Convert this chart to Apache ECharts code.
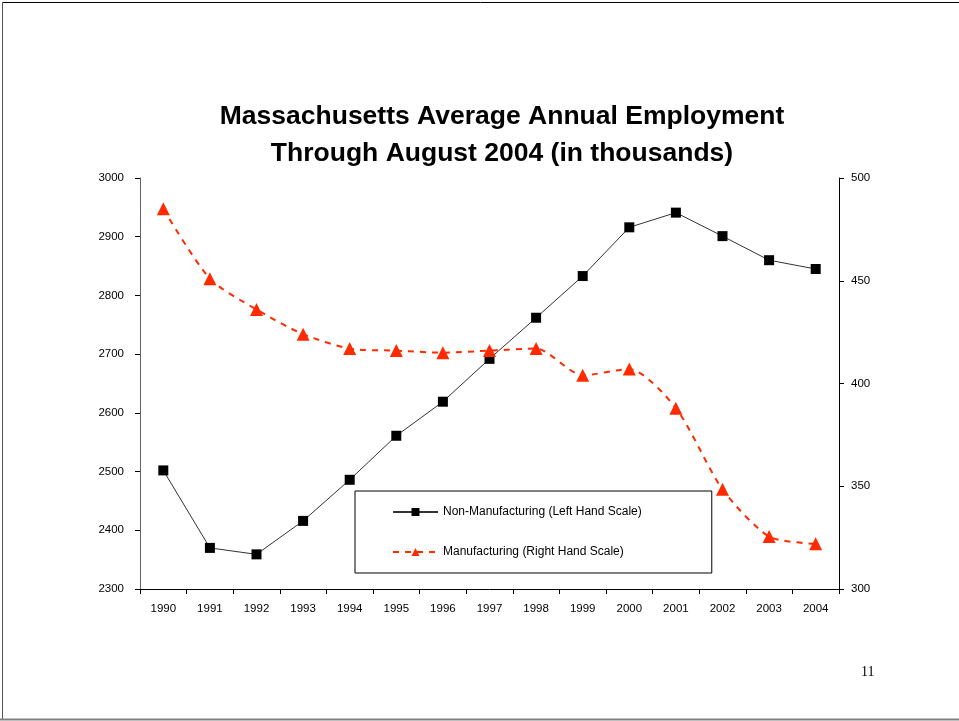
<!DOCTYPE html>
<html>
<head>
<meta charset="utf-8">
<script src="https://cdn.jsdelivr.net/npm/echarts@6/dist/echarts.min.js"></script>
<style>html,body{margin:0;padding:0;background:#fff;}#c{width:959px;height:721px;}</style>
</head>
<body>
<div id="c"></div>
<script>
const years = ['1990','1991','1992','1993','1994','1995','1996','1997','1998','1999','2000','2001','2002','2003','2004'];
const nonManufacturing = [2502, 2370, 2359, 2416, 2486, 2561, 2619, 2692, 2762, 2833, 2916, 2941, 2901, 2860, 2845];
const manufacturing = [485, 451, 436, 424, 417, 416, 415, 416, 417, 404, 407, 388, 348.5, 325.5, 322];
const leftTicks = [2300, 3000, 100];
const rightTicks = [300, 500, 50];

const chart = echarts.init(document.getElementById('c'), null, {renderer: 'canvas'});
const font = 'Liberation Sans, Arial, sans-serif';
const plain = v => String(v);
chart.setOption({
  backgroundColor: '#fff',
  animation: false,
  title: {
    text: 'Massachusetts Average Annual Employment\nThrough August 2004 (in thousands)',
    left: 497, top: 93, textAlign: 'center',
    textStyle: {fontFamily: font, fontSize: 26.5, fontWeight: 'bold', color: '#000', lineHeight: 37}
  },
  grid: {left: 140, right: 120, top: 178, bottom: 132, containLabel: false},
  legend: {
    orient: 'vertical',
    left: 355, top: 491,
    padding: [15, 70, 15, 37],
    itemGap: 28,
    itemWidth: 45, itemHeight: 10,
    borderColor: '#000', borderWidth: 1,
    textStyle: {fontFamily: font, fontSize: 12, color: '#000'},
    data: ['Non-Manufacturing (Left Hand Scale)', 'Manufacturing (Right Hand Scale)']
  },
  xAxis: {
    type: 'category', data: years, boundaryGap: true,
    axisLine: {lineStyle: {color: '#000', width: 1}},
    axisTick: {show: true, alignWithLabel: false, length: 5, lineStyle: {color: '#000'}},
    axisLabel: {fontFamily: font, fontSize: 11.5, color: '#000', margin: 14}
  },
  yAxis: [{
    type: 'value', min: leftTicks[0], max: leftTicks[1], interval: leftTicks[2], position: 'left',
    axisLine: {show: true, lineStyle: {color: '#666', width: 1}},
    axisTick: {show: true, length: 5, lineStyle: {color: '#000'}},
    splitLine: {show: false},
    axisLabel: {fontFamily: font, fontSize: 11.5, color: '#000', margin: 16, formatter: plain}
  }, {
    type: 'value', min: rightTicks[0], max: rightTicks[1], interval: rightTicks[2], position: 'right',
    axisLine: {show: true, lineStyle: {color: '#000', width: 1}},
    axisTick: {show: true, length: 5, lineStyle: {color: '#000'}},
    splitLine: {show: false},
    axisLabel: {fontFamily: font, fontSize: 11.5, color: '#000', margin: 12, formatter: plain}
  }],
  series: [{
    name: 'Non-Manufacturing (Left Hand Scale)',
    type: 'line', yAxisIndex: 0, data: nonManufacturing,
    symbol: 'rect', symbolSize: 10,
    itemStyle: {color: '#000'},
    lineStyle: {color: '#333', width: 1}
  }, {
    name: 'Manufacturing (Right Hand Scale)',
    type: 'line', yAxisIndex: 1, data: manufacturing,
    smooth: 0.25,
    symbol: 'triangle', symbolSize: 13,
    itemStyle: {color: '#FF2A00'},
    lineStyle: {color: '#FF2A00', width: 2, type: [6, 6]}
  }],
  graphic: [
    {type: 'line', shape: {x1: 2, y1: 2.5, x2: 959, y2: 2.5}, style: {stroke: '#000', lineWidth: 1}},
    {type: 'line', shape: {x1: 2.5, y1: 2, x2: 2.5, y2: 720}, style: {stroke: '#555', lineWidth: 1}},
    {type: 'line', shape: {x1: 0, y1: 719.5, x2: 959, y2: 719.5}, style: {stroke: '#808080', lineWidth: 2}},
    {type: 'text', left: 861, top: 665, style: {text: '11', font: '14px "Liberation Serif", "Times New Roman", serif', fill: '#000'}}
  ]
});
</script>
</body>
</html>
